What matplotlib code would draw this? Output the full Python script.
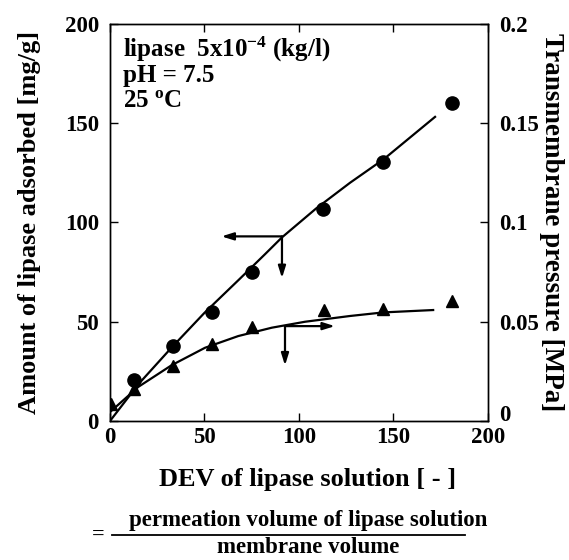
import matplotlib.pyplot as plt
import numpy as np

plt.rcParams['font.family'] = ['Liberation Serif', 'DejaVu Serif']
plt.rcParams['font.weight'] = 'bold'
plt.rcParams['mathtext.fontset'] = 'custom'
plt.rcParams['mathtext.rm'] = 'Liberation Serif:bold'
plt.rcParams['mathtext.bf'] = 'Liberation Serif:bold'
plt.rcParams['mathtext.it'] = 'Liberation Serif:bold'
plt.rcParams['mathtext.default'] = 'bf'

# adsorbed amount (circles), left axis [mg/g]
dev_ads = [12.9, 33.5, 54.1, 75.3, 112.9, 144.3, 180.8]
amount_ads = [20.5, 37.9, 54.7, 75.1, 107.0, 130.5, 160.3]

# transmembrane pressure (triangles), right axis [MPa]
dev_tmp = [0.4, 12.9, 33.5, 54.0, 75.3, 113.4, 144.3, 180.8]
tmp = [0.0084, 0.0163, 0.0278, 0.0386, 0.0475, 0.0559, 0.0564, 0.0606]

# fitted curves
fit_ads_x = [0, 15, 32.6, 50, 68, 82, 91, 109, 127, 145, 172]
fit_ads_y = [0, 18.5, 37, 54.5, 71, 84, 92.5, 107, 120, 132, 153.2]
fit_tmp_x = [0, 15, 32.6, 50.3, 67.9, 85.6, 103.2, 127, 144.6, 171]
fit_tmp_y = [0.0045, 0.0172, 0.0281, 0.0369, 0.0428, 0.0470, 0.0500, 0.0529, 0.0547, 0.0559]

# axis-indicating arrows: (start, end) in left-axis units
arrows = [((91, 93.0), (59, 93.0)), ((91, 93.0), (91, 72)),
          ((92.6, 47.8), (92.6, 28)), ((92.6, 47.8), (119, 47.8))]

fig = plt.figure(figsize=(5.69, 5.60), dpi=100)
ax = fig.add_axes([0.1933, 0.2482, 0.6643, 0.709])
ax2 = ax.twinx()

ax.plot(fit_ads_x, fit_ads_y, color='black', lw=1.6, zorder=2)
ax.plot(dev_ads, amount_ads, 'o', color='black', markersize=9.5, zorder=3)
ax2.plot(fit_tmp_x, fit_tmp_y, color='black', lw=1.6, zorder=2)
ax2.plot(dev_tmp, tmp, '^', color='black', markersize=8.5, zorder=3)

for (x0, y0), (x1, y1) in arrows:
    ax.annotate('', xy=(x1, y1), xytext=(x0, y0),
                arrowprops=dict(arrowstyle='-|>,head_length=0.7,head_width=0.22',
                                color='black', lw=1.6, shrinkA=0, shrinkB=0))

ax.set_xlim(0, 200)
ax.set_ylim(0, 200)
ax2.set_ylim(0, 0.2)
ax.set_xticks([0, 50, 100, 150, 200])
ax.set_yticks([0, 50, 100, 150, 200])
ax2.set_yticks([0, 0.05, 0.1, 0.15, 0.2])
ax2.set_yticklabels(['0', '0.05', '0.1', '0.15', '0.2'])
ax2.get_yticklabels()[0].set_verticalalignment('baseline')

ax.tick_params(direction='in', length=6, width=1, labelsize=16.5, top=True)
ax.tick_params(axis='y', pad=8)
ax.tick_params(axis='x', pad=4)
ax2.tick_params(direction='in', length=6, width=1, labelsize=16.5, pad=8)
for a in (ax, ax2):
    for s in a.spines.values():
        s.set_linewidth(1.0)

ax.set_ylabel('Amount of lipase adsorbed [mg/g]', fontsize=19, fontweight='bold', labelpad=17)
ax2.set_ylabel('Transmembrane pressure [MPa]', fontsize=19.5, fontweight='bold',
               rotation=-90, labelpad=18)

tx = (123 - 110) / 378
ax.text(tx, 1 - (57 - 24) / 397, 'lipase  5x10$^{-4}$ (kg/l)', transform=ax.transAxes,
        fontsize=18, fontweight='bold', va='baseline')
ax.text(tx, 1 - (82 - 24) / 397, 'pH = 7.5', transform=ax.transAxes, fontsize=18,
        fontweight='bold', va='baseline')
ax.text(tx, 1 - (107 - 24) / 397, '25 $^{o}$C', transform=ax.transAxes, fontsize=18,
        fontweight='bold', va='baseline')

fig.text(308 / 569, 1 - 486 / 560, 'DEV of lipase solution [ - ]', fontsize=19,
         fontweight='bold', ha='center', va='baseline')
fig.text(308 / 569, 1 - 526 / 560, 'permeation volume of lipase solution', fontsize=16.5,
         fontweight='bold', ha='center', va='baseline')
fig.text(308 / 569, 1 - 553 / 560, 'membrane volume', fontsize=16.5,
         fontweight='bold', ha='center', va='baseline')
fig.text(98 / 569, 1 - 535 / 560, '=', fontsize=16, fontweight='bold', ha='center', va='center')
fig.add_artist(plt.Line2D([112 / 569, 465 / 569], [1 - 535 / 560, 1 - 535 / 560],
                          color='black', lw=1.3))

fig.savefig('out.png', dpi=100)
